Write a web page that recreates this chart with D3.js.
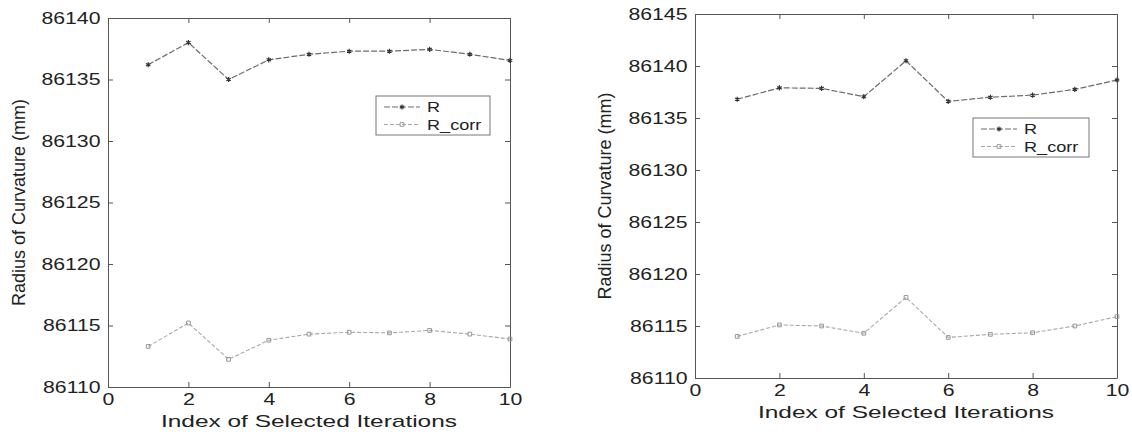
<!DOCTYPE html>
<meta charset="utf-8">
<style>

body {
    margin: 0;
    background: #fff;
}

.fig {
    font-family: "Liberation Sans", Arial, sans-serif;
}

.axis path,
.axis line {
    stroke: #555;
}

.axis text {
    font-size: 17px;
    fill: #222;
}

.title {
    font-size: 17px;
    fill: #222;
}

.ytitle {
    font-size: 18px;
    fill: #222;
}

.line-r {
    fill: none;
    stroke: #6c6c6c;
    stroke-width: 1.2;
    stroke-dasharray: 6,2;
}

.line-rcorr {
    fill: none;
    stroke: #a8a8a8;
    stroke-width: 1.1;
    stroke-dasharray: 4,2;
}

.mark-r {
    fill: none;
    stroke: #333;
    stroke-width: 1.2;
}

.mark-rcorr {
    fill: none;
    stroke: #999;
    stroke-width: 1;
}

.legend-box {
    fill: #fff;
    stroke: #777;
    stroke-width: 1;
}

.legend text {
    font-size: 14.5px;
    fill: #222;
}

</style>
<svg class="fig" width="1132" height="432"></svg>
<script src="https://d3js.org/d3.v7.min.js"></script>
<script>

// data
var iterations = [1, 2, 3, 4, 5, 6, 7, 8, 9, 10];

var leftR     = [86136.2, 86138.0, 86135.0, 86136.6, 86137.05, 86137.3, 86137.3, 86137.45, 86137.05, 86136.55];
var leftRcorr = [86113.3, 86115.2, 86112.25, 86113.8, 86114.3, 86114.45, 86114.4, 86114.6, 86114.3, 86113.9];

var rightR     = [86136.8, 86137.9, 86137.85, 86137.05, 86140.5, 86136.6, 86137.0, 86137.2, 86137.75, 86138.65];
var rightRcorr = [86114.0, 86115.1, 86115.0, 86114.3, 86117.75, 86113.9, 86114.2, 86114.35, 86115.0, 86115.9];

var xTicks = [0, 2, 4, 6, 8, 10];
var leftYTicks = [86110, 86115, 86120, 86125, 86130, 86135, 86140];
var rightYTicks = [86110, 86115, 86120, 86125, 86130, 86135, 86140, 86145];

var seriesNames = ["R", "R_corr"];
var xLabel = "Index of Selected Iterations";
var yLabel = "Radius of Curvature (mm)";

var svg = d3.select("svg");

var stretch = "scale(1.25,1)";

function drawPanel(p) {
    var x = d3.scaleLinear().domain([0, 10]).range([p.left, p.right]),
        y = d3.scaleLinear().domain(p.yDomain).range([p.bottom, p.top]);

    var g = svg.append("g");

    // bottom + left with labels, ticks pointing inward
    var bx = g.append("g")
        .attr("class", "axis")
        .attr("transform", "translate(0," + p.bottom + ")")
        .call(d3.axisBottom(x).tickValues(xTicks).tickSize(-5).tickSizeOuter(0).tickPadding(6));
    bx.selectAll("text").attr("transform", stretch);

    var ly = g.append("g")
        .attr("class", "axis")
        .attr("transform", "translate(" + p.left + ",0)")
        .call(d3.axisLeft(y).tickValues(p.yTicks).tickSize(-5).tickSizeOuter(0).tickPadding(6)
            .tickFormat(d3.format("d")));
    ly.selectAll("text").attr("transform", stretch);

    // top + right mirror ticks
    g.append("g")
        .attr("class", "axis")
        .attr("transform", "translate(0," + p.top + ")")
        .call(d3.axisTop(x).tickValues(xTicks).tickSize(-5).tickSizeOuter(0).tickFormat(""));

    g.append("g")
        .attr("class", "axis")
        .attr("transform", "translate(" + p.right + ",0)")
        .call(d3.axisRight(y).tickValues(p.yTicks).tickSize(-5).tickSizeOuter(0).tickFormat(""));

    g.append("text")
        .attr("class", "title")
        .attr("x", (p.left + p.right) / 2)
        .attr("y", p.bottom + p.xTitleGap)
        .attr("text-anchor", "middle")
        .attr("textLength", 296)
        .attr("lengthAdjust", "spacingAndGlyphs")
        .text(xLabel);

    g.append("text")
        .attr("class", "ytitle")
        .attr("transform", "translate(" + p.yTitleX + "," + ((p.top + p.bottom) / 2) + ") rotate(-90)")
        .attr("text-anchor", "middle")
        .text(yLabel);

    var line = d3.line()
        .x(function(d, i) { return x(iterations[i]); })
        .y(function(d) { return y(d); });

    g.append("path").datum(p.r).attr("class", "line-r").attr("d", line);
    g.append("path").datum(p.rcorr).attr("class", "line-rcorr").attr("d", line);

    var star = d3.symbol().type(d3.symbolAsterisk).size(18);
    var square = d3.symbol().type(d3.symbolSquare).size(14);

    g.selectAll(".mark-r")
        .data(p.r)
        .enter().append("path")
        .attr("class", "mark-r")
        .attr("transform", function(d, i) { return "translate(" + x(iterations[i]) + "," + y(d) + ")"; })
        .attr("d", star);

    g.selectAll(".mark-rcorr")
        .data(p.rcorr)
        .enter().append("path")
        .attr("class", "mark-rcorr")
        .attr("transform", function(d, i) { return "translate(" + x(iterations[i]) + "," + y(d) + ")"; })
        .attr("d", square);

    // legend
    var lg = g.append("g").attr("class", "legend");
    var L = p.legend;
    lg.append("rect")
        .attr("class", "legend-box")
        .attr("x", L.x).attr("y", L.y)
        .attr("width", L.w).attr("height", L.h);

    seriesNames.forEach(function(name, i) {
        var ry = L.y + 11 + i * 17.5;
        lg.append("line")
            .attr("class", i === 0 ? "line-r" : "line-rcorr")
            .attr("x1", L.x + 8).attr("x2", L.x + 44)
            .attr("y1", ry).attr("y2", ry);
        lg.append("path")
            .attr("class", i === 0 ? "mark-r" : "mark-rcorr")
            .attr("transform", "translate(" + (L.x + 26) + "," + ry + ")")
            .attr("d", i === 0 ? star : square);
        lg.append("text")
            .attr("transform", "translate(" + (L.x + 51) + "," + (ry + 5) + ") " + stretch)
            .text(name);
    });
}

drawPanel({
    left: 108, right: 510, top: 18, bottom: 387,
    yDomain: [86110, 86140], yTicks: leftYTicks,
    r: leftR, rcorr: leftRcorr,
    xTitleGap: 40, yTitleX: 25,
    legend: {x: 376, y: 96, w: 114, h: 39}
});

drawPanel({
    left: 695, right: 1117, top: 14, bottom: 378,
    yDomain: [86110, 86145], yTicks: rightYTicks,
    r: rightR, rcorr: rightRcorr,
    xTitleGap: 40, yTitleX: 611,
    legend: {x: 973, y: 118, w: 116, h: 39}
});

</script>
